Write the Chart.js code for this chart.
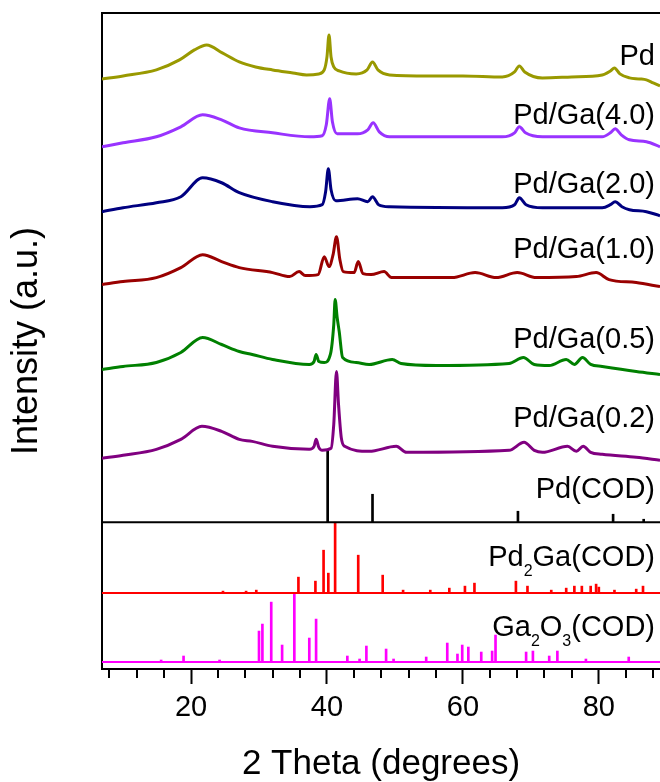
<!DOCTYPE html>
<html>
<head>
<meta charset="utf-8">
<script src="https://cdn.jsdelivr.net/npm/chart.js@4.4.1/dist/chart.umd.min.js"></script>
<style>
  html, body { margin: 0; padding: 0; background: #fff; }
  canvas { display: block; }
</style>
</head>
<body>
<canvas id="xrdChart" width="660" height="782"></canvas>
<script>
// XRD patterns, stacked with an offset per trace.
// x = 2 theta (degrees), y = intensity (a.u.)
const X_MIN = 6.9;
const X_MAX = 89.0;
const X_MAJOR = [20, 40, 60, 80];
const X_MINOR = [8, 12, 16, 24, 28, 32, 36, 44, 48, 52, 56, 64, 68, 72, 76, 84, 88];

// measured patterns: [2theta, intensity]
const pd = [[6.9,591],[10,594],[14.9,600],[18.3,610],[20.5,620],[22.3,625],[24.6,617],[27.1,608],[29.5,603],[32,600],[35,597],[37,595],[38.8,596],[39.6,600],[40.0,613],[40.3,635],[40.6,613],[41.0,603],[41.8,599],[44.3,596],[45.9,600],[46.7,608],[47.5,600],[49.2,595],[55,594],[60,594],[65.8,593],[67.6,598],[68.3,604],[69.1,598],[71.7,592],[76,593],[80.5,595],[81.7,599],[82.3,602],[83.1,596],[84.5,592],[86,591],[87,590],[88,587],[89,584]];
const pdGa40 = [[6.9,523],[10,527],[14.9,533],[18.5,543],[21.7,555],[24.5,550],[27.1,542],[32,537],[37.5,533],[39.3,534],[39.9,545],[40.4,571],[40.8,548],[41.5,536],[44.5,536],[46.0,540],[46.8,547],[47.7,538],[49.2,533],[55,533],[65.8,533],[67.6,537],[68.3,543],[69.2,537],[71.7,533],[80.5,533],[81.7,537],[82.4,541],[83.3,535],[84.5,530],[87,528],[89,523]];
const pdGa20 = [[6.9,458],[10,462],[14.9,467],[18.5,473],[21.7,492],[24.5,487],[27.1,477],[32,468],[37.5,463],[39.3,465],[39.8,478],[40.2,501],[40.6,480],[41.3,469],[44.5,471],[46.0,468],[46.7,473],[47.6,465],[49.2,463],[65.8,462],[67.6,465],[68.3,472],[69.3,465],[71.7,462],[80.5,462],[81.7,465],[82.4,468],[83.4,463],[84.5,460],[87,458],[89,454]];
const pdGa10 = [[6.9,385],[10,388],[14.9,392],[18.5,402],[21.7,415],[24.5,408],[27.1,402],[32,397],[34.5,393],[35.9,398],[36.8,394],[38.7,395],[39.6,413],[40.3,403],[40.9,415],[41.4,433],[41.9,410],[42.4,398],[44.0,397],[44.6,408],[45.3,396],[46.5,395],[48.4,398],[49.5,392],[55,392],[58.4,392],[61.8,397],[64.9,392],[68.0,397],[70.8,392],[76.7,393],[79.6,397],[81.5,390],[85.5,387],[89,383]];
const pdGa05 = [[6.9,300],[10,303],[14.9,307],[18.5,317],[21.7,332],[24.5,325],[27.1,318],[29,315],[32,310],[37.4,305],[38.1,308],[38.4,315],[38.8,308],[39.6,307],[40.5,315],[41.0,345],[41.2,370],[41.5,352],[41.8,338],[42.3,312],[44.3,307],[46.2,305],[49.6,310],[50.9,306],[56.1,304],[66.8,306],[68.9,312],[70.5,305],[72.7,304],[75.2,310],[76.4,305],[77.6,312],[78.8,305],[80.5,303],[85.5,298],[89,295]];
const pdGa02 = [[6.9,211],[10,214],[14.9,220],[18.5,230],[21.6,243],[24.5,238],[27.1,230],[29,228],[32,223],[37.4,220],[38.1,223],[38.4,230],[38.8,222],[39.3,219],[40.6,221],[41.0,245],[41.4,298],[41.7,265],[42.1,232],[42.6,223],[46.2,218],[50.2,223],[51.7,217],[66.8,219],[69.0,227],[70.5,219],[71.7,217],[75.4,223],[76.7,218],[77.7,223],[78.8,217],[80.5,215],[85.5,212],[89,209]];

// reference (COD) patterns: baseline and [2theta, peak top]
const PD_COD_BASE = 147;
const pdCod = [[40.1,218],[46.7,175],[68.1,158],[82.1,155],[86.6,150]];
const PD2GA_COD_BASE = 76;
const pd2GaCod = [[24.7,78],[28.1,78],[29.6,79],[35.8,92],[38.3,88],[39.5,119],[40.2,96],[41.2,147],[44.6,114],[48.2,94],[51.2,79],[55.2,79],[58.0,81],[60.3,83],[61.7,86],[67.8,88],[69.5,83],[73.0,79],[75.2,81],[76.4,83],[77.5,83],[78.8,83],[79.6,85],[80.0,82],[82.3,79],[85.5,80],[86.5,83]];
const GA2O3_COD_BASE = 7;
const ga2O3Cod = [[15.6,9],[18.9,13],[24.2,9],[30.0,38],[30.5,45],[31.8,67],[33.4,24],[35.2,76],[37.4,31],[38.4,50],[43.0,13],[44.8,10],[45.8,23],[48.7,20],[49.8,10],[54.6,12],[57.7,26],[59.2,15],[59.9,24],[60.8,22],[62.7,17],[64.3,18],[64.8,34],[69.3,17],[70.3,18],[72.7,13],[73.9,18],[78.1,10],[84.4,12]];

// trace labels; 'sub' = subscript
const LABELS = [
  { parts: [['Pd']], y: 605 },
  { parts: [['Pd/Ga(4.0)']], y: 546 },
  { parts: [['Pd/Ga(2.0)']], y: 477 },
  { parts: [['Pd/Ga(1.0)']], y: 412 },
  { parts: [['Pd/Ga(0.5)']], y: 321 },
  { parts: [['Pd/Ga(0.2)']], y: 242 },
  { parts: [['Pd(COD)']], y: 171 },
  { parts: [['Pd'], ['2', 'sub'], ['Ga(COD)']], y: 103 },
  { parts: [['Ga'], ['2', 'sub'], ['O'], ['3', 'sub'], ['(COD)']], y: 33 },
];

const FONT = '"Liberation Sans", Arial, sans-serif';

const toXY = (arr) => arr.map(p => ({ x: p[0], y: p[1] }));
const toSticks = (arr, base) => arr.map(p => ({ x: p[0], y: [base, p[1]] }));

function trace(data, color) {
  return {
    type: 'line', data: toXY(data), borderColor: color, borderWidth: 3,
    pointRadius: 0, cubicInterpolationMode: 'monotone', fill: false,
  };
}
function baseline(base, color) {
  return {
    type: 'line', data: [{ x: X_MIN, y: base }, { x: X_MAX, y: base }],
    borderColor: color, borderWidth: 2, pointRadius: 0, fill: false,
  };
}
function sticks(data, base, color) {
  return {
    type: 'bar', data: toSticks(data, base), backgroundColor: color,
    borderWidth: 0, barThickness: 2, grouped: false,
  };
}

const minorTicks = {
  id: 'minorTicks',
  afterDraw(chart) {
    const { ctx, chartArea, scales } = chart;
    ctx.save();
    ctx.strokeStyle = '#000';
    ctx.lineWidth = 2;
    X_MINOR.forEach(v => {
      const px = Math.round(scales.x.getPixelForValue(v));
      ctx.beginPath();
      ctx.moveTo(px, chartArea.bottom);
      ctx.lineTo(px, chartArea.bottom + 9);
      ctx.stroke();
    });
    ctx.restore();
  },
};

const traceLabels = {
  id: 'traceLabels',
  afterDatasetsDraw(chart) {
    const { ctx, chartArea, scales } = chart;
    const right = chartArea.right - 5;
    ctx.save();
    ctx.fillStyle = '#000';
    ctx.textBaseline = 'alphabetic';
    ctx.textAlign = 'left';
    LABELS.forEach(lab => {
      const y = scales.y.getPixelForValue(lab.y);
      const widths = lab.parts.map(p => {
        ctx.font = (p[1] ? '16px ' : '29px ') + FONT;
        return ctx.measureText(p[0]).width;
      });
      let x = right - widths.reduce((a, b) => a + b, 0);
      lab.parts.forEach((p, i) => {
        ctx.font = (p[1] ? '16px ' : '29px ') + FONT;
        ctx.fillText(p[0], x, p[1] ? y + 10 : y);
        x += widths[i];
      });
    });
    ctx.restore();
  },
};

new Chart(document.getElementById('xrdChart'), {
  type: 'line',
  data: {
    datasets: [
      trace(pd, '#999900'),
      trace(pdGa40, '#9933FF'),
      trace(pdGa20, '#000080'),
      trace(pdGa10, '#990000'),
      trace(pdGa05, '#008000'),
      trace(pdGa02, '#800080'),
      baseline(PD_COD_BASE, '#000000'),
      sticks(pdCod, PD_COD_BASE, '#000000'),
      baseline(PD2GA_COD_BASE, '#FF0000'),
      sticks(pd2GaCod, PD2GA_COD_BASE, '#FF0000'),
      baseline(GA2O3_COD_BASE, '#FF00FF'),
      sticks(ga2O3Cod, GA2O3_COD_BASE, '#FF00FF'),
    ],
  },
  options: {
    responsive: false,
    animation: false,
    layout: { padding: { top: 13, right: 0, left: 0, bottom: 0 } },
    plugins: { legend: { display: false }, tooltip: { enabled: false } },
    scales: {
      x: {
        type: 'linear', position: 'bottom', min: X_MIN, max: X_MAX, offset: false,
        afterBuildTicks: (s) => { s.ticks = X_MAJOR.map(v => ({ value: v })); },
        afterFit: (s) => { s.height = 113; },
        ticks: { color: '#000', font: { family: FONT, size: 29 }, padding: 7, maxRotation: 0, autoSkip: false },
        grid: { offset: false, drawOnChartArea: false, tickLength: 15, tickWidth: 2, tickColor: '#000' },
        border: { color: '#000', width: 2 },
        title: { display: true, text: '2 Theta (degrees)', color: '#000',
          font: { family: FONT, size: 35, lineHeight: 1 }, padding: { top: 0, bottom: 0 } },
      },
      xTop: {
        type: 'linear', position: 'top', min: X_MIN, max: X_MAX,
        afterFit: (s) => { s.height = 0; },
        ticks: { display: false },
        grid: { display: false, drawTicks: false },
        border: { color: '#000', width: 2 },
      },
      y: {
        type: 'linear', min: 0, max: 657,
        afterFit: (s) => { s.width = 102; },
        ticks: { display: false },
        grid: { drawOnChartArea: false, drawTicks: false },
        border: { color: '#000', width: 2 },
        title: { display: true, text: 'Intensity (a.u.)', color: '#000',
          font: { family: FONT, size: 36, lineHeight: 1 }, padding: { top: 9, bottom: 0 } },
      },
    },
  },
  plugins: [minorTicks, traceLabels],
});
</script>
</body>
</html>
